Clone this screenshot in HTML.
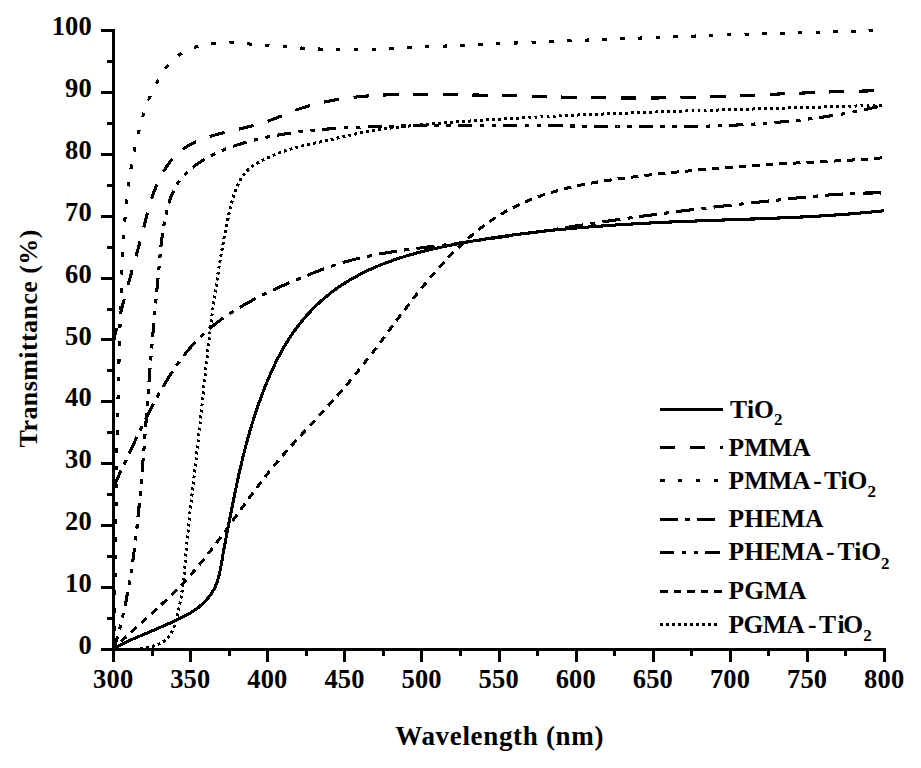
<!DOCTYPE html>
<html><head><meta charset="utf-8"><title>Transmittance</title><style>
html,body{margin:0;padding:0;background:#fff;}
body{width:921px;height:768px;position:relative;overflow:hidden;font-family:"Liberation Serif",serif;font-weight:bold;color:#000;}
.t{position:absolute;white-space:nowrap;line-height:1;}
.yl{font-size:26.5px;text-align:right;width:60px;letter-spacing:0.15px;}
.xl{font-size:26.5px;text-align:center;width:80px;letter-spacing:0.15px;}
.lg{font-size:25.5px;}
.lg sub{font-size:17px;vertical-align:baseline;position:relative;top:7.3px;line-height:0;}
.lg i{font-style:normal;display:inline-block;}
</style></head><body>
<svg width="921" height="768" viewBox="0 0 921 768" style="position:absolute;left:0;top:0">
<rect width="921" height="768" fill="#fff"/>
<g fill="none" stroke="#000" stroke-linejoin="round" shape-rendering="crispEdges">
<path d="M140 648.6 L142.3 648.3 L144.8 647.9 L147.3 647.4 L149.9 646.9 L152.4 646.3 L155 645.5 L157.5 644.7 L159.8 643.7 L162.1 642.5 L164.2 641.2 L166.1 639.7 L167.8 638 L169.3 636.2 L170.6 634.3 L171.8 632.2 L172.8 630 L173.8 627.7 L174.6 625.3 L175.4 622.9 L176.1 620.5 L176.7 618.1 L177.3 615.6 L177.9 613.2 L178.5 610.7 L179 608.2 L179.5 605.8 L180 603.3 L180.5 600.8 L180.9 598.4 L181.3 595.9 L181.7 593.4 L182.1 590.9 L182.4 588.4 L182.7 585.9 L183.1 583.5 L183.4 581 L183.6 578.5 L183.9 576 L184.2 573.5 L184.4 571 L184.7 568.5 L184.9 566 L185.1 563.5 L185.4 561 L185.6 558.5 L185.8 556 L186 553.5 L186.2 551 L186.5 548.6 L186.7 546.1 L186.9 543.6 L187.1 541.1 L187.3 538.6 L187.6 536.1 L187.8 533.6 L188.1 531.1 L188.3 528.6 L188.6 526.1 L188.8 523.6 L189.1 521.1 L189.3 518.6 L189.6 516.1 L189.9 513.6 L190.1 511.2 L190.4 508.7 L190.7 506.2 L191 503.7 L191.2 501.2 L191.5 498.7 L191.8 496.2 L192.1 493.7 L192.4 491.2 L192.7 488.8 L193 486.3 L193.2 483.8 L193.5 481.3 L193.8 478.8 L194.1 476.3 L194.4 473.8 L194.7 471.3 L195 468.9 L195.3 466.4 L195.6 463.9 L195.9 461.4 L196.1 458.9 L196.4 456.4 L196.7 453.9 L197 451.4 L197.3 448.9 L197.6 446.5 L197.8 444 L198.1 441.5 L198.4 439 L198.7 436.5 L198.9 434 L199.2 431.5 L199.5 429 L199.7 426.5 L200 424 L200.3 421.5 L200.5 419 L200.8 416.6 L201 414.1 L201.3 411.6 L201.6 409.1 L201.8 406.6 L202.1 404.1 L202.3 401.6 L202.6 399.1 L202.8 396.6 L203.1 394.1 L203.4 391.6 L203.6 389.1 L203.9 386.7 L204.1 384.2 L204.4 381.7 L204.7 379.2 L204.9 376.7 L205.2 374.2 L205.5 371.7 L205.7 369.2 L206 366.7 L206.3 364.2 L206.5 361.7 L206.8 359.3 L207.1 356.8 L207.4 354.3 L207.6 351.8 L207.9 349.3 L208.2 346.8 L208.5 344.3 L208.8 341.8 L209.1 339.3 L209.4 336.9 L209.7 334.4 L210 331.9 L210.3 329.4 L210.6 326.9 L210.9 324.4 L211.2 321.9 L211.5 319.5 L211.8 317 L212.1 314.5 L212.4 312 L212.8 309.5 L213.1 307 L213.4 304.6 L213.8 302.1 L214.1 299.6 L214.5 297.1 L214.8 294.6 L215.2 292.2 L215.5 289.7 L215.9 287.2 L216.3 284.7 L216.6 282.3 L217 279.8 L217.4 277.3 L217.8 274.8 L218.2 272.4 L218.5 269.9 L218.9 267.4 L219.3 264.9 L219.8 262.5 L220.2 260 L220.6 257.5 L221 255.1 L221.4 252.6 L221.9 250.1 L222.3 247.7 L222.8 245.2 L223.2 242.7 L223.7 240.3 L224.1 237.8 L224.6 235.3 L225.1 232.9 L225.6 230.4 L226.1 227.9 L226.6 225.5 L227.1 223 L227.6 220.6 L228.1 218.1 L228.6 215.6 L229.1 213.2 L229.7 210.7 L230.2 208.3 L230.8 205.8 L231.4 203.4 L232.1 201 L232.7 198.6 L233.5 196.2 L234.3 193.8 L235.1 191.4 L236 189.1 L236.9 186.8 L238 184.5 L239.1 182.2 L240.3 180 L241.6 177.9 L242.9 175.8 L244.4 173.8 L246 172 L247.7 170.2 L249.5 168.5 L251.4 167 L253.4 165.5 L255.5 164.2 L257.7 162.9 L259.9 161.7 L262.1 160.5 L264.4 159.4 L266.7 158.3 L269 157.2 L271.3 156.2 L273.7 155.2 L276 154.2 L278.3 153.3 L280.7 152.4 L283.1 151.6 L285.4 150.7 L287.8 149.9 L290.2 149.2 L292.6 148.5 L295 147.8 L297.4 147.2 L299.8 146.5 L302.2 145.9 L304.7 145.4 L307.1 144.8 L309.5 144.3 L312 143.7 L314.4 143.2 L316.9 142.7 L319.3 142.2 L321.7 141.6 L324.2 141.1 L326.6 140.5 L329.1 140 L331.5 139.4 L334 138.9 L336.4 138.3 L338.9 137.7 L341.3 137.2 L343.8 136.6 L346.2 136 L348.7 135.5 L351.1 135 L353.6 134.4 L356 133.9 L358.5 133.4 L360.9 132.9 L363.4 132.5 L365.9 132 L368.3 131.6 L370.8 131.1 L373.3 130.7 L375.7 130.3 L378.2 129.9 L380.7 129.6 L383.2 129.2 L385.6 128.8 L388.1 128.5 L390.6 128.1 L393.1 127.8 L395.6 127.5 L398.1 127.2 L400.5 126.9 L403 126.6 L405.5 126.3 L408 126.1 L410.5 125.8 L413 125.5 L415.5 125.3 L418 125.1 L420.5 124.8 L423 124.6 L425.5 124.4 L427.9 124.1 L430.4 123.9 L432.9 123.7 L435.4 123.5 L437.9 123.3 L440.4 123.1 L442.9 122.9 L445.4 122.7 L447.9 122.6 L450.4 122.4 L452.9 122.2 L455.4 122 L457.9 121.8 L460.4 121.7 L462.9 121.5 L465.4 121.3 L467.9 121.2 L470.4 121 L472.9 120.8 L475.4 120.7 L477.9 120.5 L480.4 120.3 L482.9 120.2 L485.4 120 L487.9 119.8 L490.4 119.7 L492.9 119.5 L495.4 119.4 L497.9 119.2 L500.4 119.1 L502.9 118.9 L505.4 118.8 L507.9 118.6 L510.4 118.5 L512.9 118.3 L515.4 118.2 L517.9 118.1 L520.4 117.9 L522.9 117.8 L525.4 117.6 L527.9 117.5 L530.4 117.4 L533 117.2 L535.5 117.1 L538 117 L540.5 116.9 L543 116.7 L545.5 116.6 L548 116.5 L550.5 116.3 L553 116.2 L555.5 116.1 L558 116 L560.5 115.9 L563 115.7 L564.8 115.7" stroke-width="3.0" stroke-dasharray="2.9 3.14" stroke-dashoffset="0.03"/>
<path d="M564.8 115.7 L565.5 115.6 L568 115.5 L570.5 115.4 L573 115.3 L575.5 115.2 L578 115 L580.5 114.9 L583 114.8 L585.5 114.7 L588 114.6 L590.5 114.5 L593 114.4 L595.5 114.3 L598 114.2 L600.5 114.1 L603 114 L605.5 113.9 L608 113.8 L610.5 113.7 L613 113.6 L615.5 113.5 L618 113.4 L620.5 113.3 L623.1 113.2 L625.6 113.1 L628.1 113 L630.6 112.9 L633.1 112.8 L635.6 112.7 L638.1 112.6 L640.6 112.5 L643.1 112.4 L645.6 112.4 L648.1 112.3 L650.6 112.2 L653.1 112.1 L655.6 112 L658.1 111.9 L660.6 111.8 L663.1 111.7 L665.6 111.7 L668.1 111.6 L670.6 111.5 L673.1 111.4 L675.6 111.3 L678.1 111.2 L680.6 111.2 L683.2 111.1 L685.7 111 L688.2 110.9 L690.7 110.8 L693.2 110.8 L695.7 110.7 L698.2 110.6 L700.7 110.5 L703.2 110.5 L705.7 110.4 L708.2 110.3 L710.7 110.2 L713.2 110.2 L715.7 110.1 L718.2 110 L720.7 109.9 L723.2 109.9 L725.7 109.8 L728.2 109.7 L730.7 109.6 L733.2 109.6 L735.7 109.5 L738.2 109.4 L740.8 109.3 L743.3 109.3 L745.8 109.2 L748.3 109.1 L750.8 109 L753.3 109 L755.8 108.9 L758.3 108.8 L760.8 108.8 L763.3 108.7 L765.8 108.6 L768.3 108.5 L770.8 108.5 L773.3 108.4 L775.8 108.3 L778.3 108.3 L780.8 108.2 L783.3 108.1 L785.8 108 L788.3 108 L790.8 107.9 L793.4 107.8 L795.9 107.8 L798.4 107.7 L800.9 107.6 L803.4 107.5 L805.9 107.5 L808.4 107.4 L810.9 107.3 L813.4 107.3 L815.9 107.2 L818.4 107.1 L820.9 107 L823.4 107 L825.9 106.9 L828.4 106.8 L830.9 106.7 L833.4 106.7 L835.9 106.6 L838.4 106.5 L840.9 106.4 L843.4 106.4 L845.9 106.3 L848.4 106.2 L851 106.1 L853.5 106.1 L856 106 L858.5 105.9 L861 105.8 L863.5 105.7 L866 105.7 L868.5 105.6 L871 105.5 L873.5 105.4 L876 105.3 L878.5 105.3 L881 105.2 L883.5 105.1" stroke-width="3.0" stroke-dasharray="2.9 3.14" stroke-dashoffset="0.00"/>
<path d="M114.3 649 L114.3 646.5 L114.3 644 L114.4 641.5 L114.4 639 L114.4 636.5 L114.4 634 L114.5 631.5 L114.5 629 L114.5 626.5 L114.5 624 L114.6 621.4 L114.6 618.9 L114.6 616.4 L114.6 613.9 L114.7 611.4 L114.7 608.9 L114.7 606.4 L114.7 603.9 L114.8 601.4 L114.8 598.9 L114.8 596.4 L114.8 593.9 L114.9 591.4 L114.9 588.9 L114.9 586.4 L114.9 583.9 L115 581.4 L115 578.9 L115 576.4 L115.1 573.9 L115.1 571.4 L115.1 568.8 L115.1 566.3 L115.2 563.8 L115.2 561.3 L115.2 558.8 L115.3 556.3 L115.3 553.8 L115.3 551.3 L115.4 548.8 L115.4 546.3 L115.4 543.8 L115.5 541.3 L115.5 538.8 L115.5 536.3 L115.6 533.8 L115.6 531.3 L115.6 528.8 L115.7 526.3 L115.7 523.8 L115.7 521.3 L115.8 518.8 L115.8 516.3 L115.8 513.8 L115.9 511.2 L115.9 508.7 L116 506.2 L116 503.7 L116 501.2 L116.1 498.7 L116.1 496.2 L116.1 493.7 L116.2 491.2 L116.2 488.7 L116.3 486.2 L116.3 483.7 L116.4 481.2 L116.4 478.7 L116.4 476.2 L116.5 473.7 L116.5 471.2 L116.6 468.7 L116.6 466.2 L116.7 463.7 L116.7 461.2 L116.7 458.7 L116.8 456.2 L116.8 453.7 L116.9 451.2 L116.9 448.6 L117 446.1 L117 443.6 L117.1 441.1 L117.1 438.6 L117.2 436.1 L117.2 433.6 L117.3 431.1 L117.3 428.6 L117.4 426.1 L117.4 423.6 L117.5 421.1 L117.6 418.6 L117.6 416.1 L117.7 413.6 L117.7 411.1 L117.8 408.6 L117.8 406.1 L117.9 403.6 L118 401.1 L118 398.6 L118.1 396.1 L118.1 393.6 L118.2 391.1 L118.3 388.5 L118.3 386 L118.4 383.5 L118.4 381 L118.5 378.5 L118.6 376 L118.6 373.5 L118.7 371 L118.8 368.5 L118.8 366 L118.9 363.5 L119 361 L119 358.5 L119.1 356 L119.2 353.5 L119.2 351 L119.3 348.5 L119.4 346 L119.5 343.5 L119.5 341 L119.6 338.5 L119.7 336 L119.8 333.5 L119.8 331 L119.9 328.5 L120 325.9 L120.1 323.4 L120.1 320.9 L120.2 318.4 L120.3 315.9 L120.4 313.4 L120.5 310.9 L120.6 308.4 L120.6 305.9 L120.7 303.4 L120.8 300.9 L120.9 298.4 L121 295.9 L121.1 293.4 L121.1 292.2" stroke-width="3.1" stroke-dasharray="4.5 13.3" stroke-dashoffset="17.18"/>
<path d="M121.1 292.2 L121.2 290.9 L121.2 288.4 L121.3 285.9 L121.4 283.4 L121.5 280.9 L121.6 278.4 L121.7 275.9 L121.8 273.4 L121.9 270.9 L122 268.3 L122.1 265.8 L122.2 263.3 L122.3 260.8 L122.5 258.3 L122.6 255.8 L122.7 253.3 L122.8 250.8 L123 248.3 L123.1 245.8 L123.2 243.3 L123.4 240.8 L123.5 238.3 L123.7 235.8 L123.9 233.3 L124 230.8 L124.2 228.3 L124.4 225.9 L124.6 223.4 L124.8 220.9 L125 218.4 L125.2 215.9 L125.4 213.4 L125.6 210.9 L125.9 208.4 L126.1 205.9 L126.4 203.4 L126.6 201 L126.9 198.5 L127.2 196 L127.5 193.5 L127.8 191 L128.1 188.5 L128.4 186.1 L128.7 183.6 L129.1 181.1 L129.4 178.6 L129.8 176.2 L130.2 173.7 L130.6 171.2 L131 168.8 L131.4 166.3 L131.8 163.8 L132.2 161.4 L132.7 158.9 L133.1 156.4 L133.6 154 L134.1 151.5 L134.6 149.1 L135.1 146.6 L135.7 144.2 L136.2 141.7 L136.8 139.3 L137.3 136.8 L137.9 134.4 L138.5 131.9 L139.2 129.5 L139.8 127.1 L140.5 124.6 L141.1 122.2 L141.8 119.8 L142.6 117.4 L143.3 114.9 L144.1 112.5 L144.9 110.1 L145.7 107.8 L146.5 105.4 L147.4 103 L148.3 100.7 L148.6 100.1" stroke-width="3.1" stroke-dasharray="4.48 13.2" stroke-dashoffset="0.00"/>
<path d="M148.6 100.1 L149.3 98.3 L150.2 96 L151.2 93.7 L152.3 91.4 L153.3 89.1 L154.4 86.8 L155.6 84.6 L156.8 82.4 L158 80.2 L159.3 78 L160.6 75.8 L162 73.7 L163.4 71.6 L164.8 69.5 L166.3 67.5 L167.9 65.6 L169.5 63.7 L171.2 61.9 L172.9 60.2 L174.7 58.5 L176.5 56.9 L178.4 55.4 L180.4 54.1 L182.5 52.7 L184.6 51.5 L186.7 50.4 L188.9 49.4 L191.2 48.4 L193.5 47.6 L195.8 46.8 L198.2 46.1 L200.6 45.4 L203 44.9 L205.5 44.4 L208 44 L210.4 43.6 L212.9 43.3 L215.5 43.1 L218 42.9 L220.5 42.8 L223 42.7 L225.5 42.7 L228.1 42.7 L229.5 42.8" stroke-width="3.1" stroke-dasharray="4.55 13.4" stroke-dashoffset="0.00"/>
<path d="M229.5 42.8 L230.6 42.8 L233.1 42.9 L235.7 43 L238.2 43.1 L240.7 43.3 L243.3 43.5 L245.8 43.7 L248.3 43.9 L250.8 44.1 L253.4 44.3 L255.9 44.5 L258.4 44.7 L260.9 44.9 L263.4 45.1 L266 45.3 L268.5 45.5 L271 45.7 L273.5 45.9 L276 46.1 L278.5 46.3 L281 46.5 L283.5 46.7 L286 46.9 L288.5 47.1 L291 47.3 L293.5 47.5 L296 47.7 L298.4 47.8 L300.9 48 L303.4 48.2 L305.9 48.3 L308.4 48.5 L310.9 48.6 L313.4 48.7 L315.9 48.9 L318.4 49 L320.9 49.1 L323.3 49.2 L325.8 49.3 L328.3 49.4 L330.8 49.4 L333.3 49.5 L335.8 49.5 L338.3 49.6 L340.8 49.6 L343.3 49.6 L345.8 49.6 L348.3 49.6 L350.8 49.6 L353.3 49.6 L355.8 49.6 L358.3 49.6 L360.8 49.5 L363.3 49.5 L365.8 49.4 L368.3 49.3 L370.8 49.3 L373.3 49.2 L375.8 49.1 L378.3 49 L380.8 48.9 L383.3 48.8 L385.8 48.7 L388.4 48.6 L390.9 48.5 L393.4 48.4 L395.9 48.3 L398.4 48.2 L400.9 48.1 L403.4 48 L405.9 47.8 L408.4 47.7 L410.9 47.6 L413.4 47.5 L415.9 47.4 L418.4 47.3 L420.9 47.1 L423.4 47 L426 46.9 L428.5 46.8 L431 46.7 L433.5 46.6 L436 46.5 L438.5 46.3 L441 46.2 L443.5 46.1 L446 46 L448.5 45.9 L451 45.8 L453.5 45.7 L456 45.6 L458.5 45.4 L461 45.3 L463.5 45.2 L466 45.1 L468.5 45 L471 44.9 L473.5 44.8 L476 44.7 L478.5 44.6 L481 44.5 L483.5 44.3 L486 44.2 L488.5 44.1 L491 44 L493.5 43.9 L496 43.8 L498.5 43.7 L501 43.6 L503.5 43.5 L506 43.4 L508.6 43.3 L511.1 43.2 L513.6 43.1 L516.1 43 L518.6 42.9 L521.1 42.7 L523.6 42.6 L526.1 42.5 L528.6 42.4 L531.1 42.3 L533.6 42.2 L536.1 42.1 L538.6 42 L541.1 41.9 L543.6 41.8 L546.1 41.7 L548.6 41.6 L551.1 41.5 L553.6 41.4 L556.1 41.3 L558.6 41.2 L561.1 41.1 L563.6 41 L566.1 40.9 L568.6 40.8 L571.1 40.7 L573.6 40.6 L576.1 40.5 L578.6 40.4 L581.1 40.3 L583.6 40.2 L586.1 40.1 L588.6 40 L591.1 39.9 L593.6 39.8 L596.1 39.7 L598.6 39.6 L601.1 39.5 L602.3 39.5" stroke-width="3.1" stroke-dasharray="4.49 13.3" stroke-dashoffset="0.00"/>
<path d="M602.3 39.5 L603.6 39.4 L606.1 39.3 L608.6 39.2 L611.1 39.1 L613.6 39 L616.1 38.9 L618.6 38.8 L621.1 38.7 L623.6 38.6 L626.1 38.5 L628.6 38.4 L631.1 38.3 L633.6 38.3 L636.1 38.2 L638.6 38.1 L641.1 38 L643.6 37.9 L646.2 37.8 L648.7 37.7 L651.2 37.6 L653.7 37.5 L656.2 37.4 L658.7 37.3 L661.2 37.2 L663.7 37.1 L666.2 37 L668.7 37 L671.2 36.9 L673.7 36.8 L676.2 36.7 L678.7 36.6 L681.2 36.5 L683.7 36.4 L686.2 36.3 L688.7 36.2 L691.2 36.1 L693.7 36.1 L696.2 36 L698.7 35.9 L701.2 35.8 L703.7 35.7 L706.2 35.6 L708.7 35.5 L711.2 35.5 L713.7 35.4 L716.2 35.3 L718.8 35.2 L721.3 35.1 L723.8 35 L726.3 34.9 L728.8 34.9 L731.3 34.8 L733.8 34.7 L736.3 34.6 L738.8 34.5 L741.3 34.5 L743.8 34.4 L746.3 34.3 L748.8 34.2 L751.3 34.1 L753.8 34.1 L756.3 34 L758.8 33.9 L761.3 33.8 L763.8 33.7 L766.3 33.7 L768.8 33.6 L771.3 33.5 L773.8 33.4 L776.3 33.4 L778.8 33.3 L781.4 33.2 L783.9 33.1 L786.4 33.1 L788.9 33 L791.4 32.9 L793.9 32.8 L796.4 32.8 L798.9 32.7 L801.4 32.6 L803.9 32.5 L806.4 32.5 L808.9 32.4 L811.4 32.3 L813.9 32.3 L816.4 32.2 L818.9 32.1 L821.4 32.1 L823.9 32 L826.4 31.9 L828.9 31.9 L831.4 31.8 L833.9 31.7 L836.4 31.7 L838.9 31.6 L841.4 31.5 L843.9 31.5 L846.5 31.4 L849 31.3 L851.5 31.3 L854 31.2 L856.5 31.1 L859 31.1 L861.5 31 L864 31 L866.5 30.9 L868.8 30.9" stroke-width="3.1" stroke-dasharray="4.49 13.3" stroke-dashoffset="0.00"/>
<path d="M868.8 30.9 L869 30.8 L871.5 30.8 L874 30.7 L876.5 30.7 L879 30.6 L881.5 30.6 L884 30.5" stroke-width="3.1" stroke-dasharray="4.5 13.3" stroke-dashoffset="0.00"/>
<path d="M113.7 648.7 L115.5 647 L117.3 645.2 L119.1 643.5 L120.9 641.7 L120.9 641.7" stroke-width="3.0" stroke-dasharray="7.5 6.03" stroke-dashoffset="3.49"/>
<path d="M120.9 641.7 L122.7 640 L124.5 638.3 L126.4 636.6 L128.2 634.9 L130.1 633.2 L131.9 631.5 L133.8 629.8 L135.6 628.1 L137.5 626.4 L139.4 624.7 L141.2 623 L143.1 621.3 L145 619.6 L146.9 618 L148.7 616.3 L150.6 614.6 L152.4 612.9 L154.3 611.2 L156.2 609.5 L158 607.8 L159.9 606.1 L161.7 604.4 L163.5 602.6 L165.3 600.9 L167.2 599.2 L169 597.4 L170.8 595.7 L172.6 593.9 L174.3 592.2 L176.1 590.4 L177.9 588.6 L179.6 586.8 L181.4 585 L183.1 583.2 L184.8 581.3 L186.5 579.5 L188.2 577.7 L189.9 575.8 L191.5 573.9 L193.2 572 L194.8 570.1 L196.4 568.2 L198 566.3 L199.6 564.4 L201.2 562.5 L202.8 560.5 L204.4 558.6 L205.9 556.6 L207.5 554.6 L209 552.7 L210.6 550.7 L212.1 548.7 L213.6 546.7 L215.1 544.7 L216.6 542.7 L218.1 540.7 L219.6 538.7 L221.1 536.7 L222.6 534.6 L224.1 532.6 L225.6 530.6 L227.1 528.6 L228.5 526.5 L230 524.5 L231.5 522.5 L233 520.4 L234.4 518.4 L235.9 516.3 L237.4 514.3 L238.8 512.3 L240.3 510.2 L241.8 508.2 L243.3 506.2 L244.7 504.1 L246.2 502.1 L247.7 500.1 L248.7 498.7" stroke-width="3.0" stroke-dasharray="7.62 6.13" stroke-dashoffset="0.00"/>
<path d="M248.7 498.7 L249.2 498 L250.7 496 L252.2 494 L253.6 492 L255.1 490 L256.7 487.9 L258.2 485.9 L259.7 483.9 L261.2 481.9 L262.7 480 L264.3 478 L265.8 476 L267.4 474 L268.9 472.1 L270.5 470.1 L272.1 468.1 L273.7 466.2 L275.3 464.3 L276.9 462.3 L278.5 460.4 L280.1 458.5 L281.7 456.6 L283.4 454.7 L285 452.8 L286.7 451 L288.4 449.1 L290 447.2 L291.7 445.3 L293.4 443.5 L295.1 441.6 L296.8 439.8 L298.5 437.9 L300.2 436.1 L301.9 434.2 L303.6 432.4 L305.3 430.5 L307 428.7 L308.7 426.9 L310.5 425 L312.2 423.2 L313.9 421.4 L315.6 419.5 L317.3 417.7 L319 415.8 L320.7 414 L322.4 412.1 L324.1 410.3 L325.8 408.5 L327.5 406.6 L329.2 404.7 L330.9 402.9 L332.5 401 L334.2 399.1 L335.9 397.3 L337.5 395.4 L339.2 393.5 L340.8 391.6 L342.5 389.7 L344.1 387.8 L345.7 385.9 L347.4 384 L349 382.1 L350.6 380.2 L352.2 378.3 L353.8 376.3 L355.4 374.4 L357 372.4 L358.5 370.5 L360.1 368.5 L361.7 366.6 L363.2 364.6 L364.8 362.6 L366.3 360.6 L367.9 358.7 L369.4 356.7 L370.9 354.7 L371.8 353.5" stroke-width="3.0" stroke-dasharray="7.54 6.07" stroke-dashoffset="0.00"/>
<path d="M371.8 353.5 L372.5 352.7 L374 350.7 L375.5 348.7 L377 346.7 L378.5 344.7 L380.1 342.6 L381.6 340.6 L383.1 338.6 L384.6 336.6 L386.1 334.6 L387.6 332.6 L389.1 330.5 L390.6 328.5 L392.1 326.5 L393.6 324.5 L395.1 322.5 L396.6 320.4 L398.2 318.4 L399.7 316.4 L401.2 314.4 L402.7 312.4 L404.2 310.4 L405.7 308.4 L407.3 306.4 L408.8 304.4 L410.3 302.4 L411.9 300.4 L413.4 298.4 L415 296.5 L416.5 294.5 L418.1 292.5 L419.7 290.5 L421.2 288.6 L422.8 286.6 L424.4 284.7 L426 282.8 L427.6 280.8 L429.2 278.9 L430.8 277 L432.5 275.1 L434.1 273.2 L435.8 271.3 L437.4 269.4 L439.1 267.5 L440.8 265.7 L442.5 263.8 L444.2 262 L445.9 260.2 L447.6 258.3 L449.3 256.5 L451.1 254.7 L452.8 253 L454.6 251.2 L456.4 249.4 L458.2 247.7 L460 245.9 L461.9 244.2 L463.7 242.5 L465.6 240.8 L467.4 239.2 L469.3 237.5 L471.2 235.9 L473.2 234.2 L475.1 232.6 L477 231.1 L479 229.5 L481 227.9 L483 226.4 L485 224.9 L487 223.5 L489.1 222 L491.2 220.6 L493.2 219.2 L495.3 217.8 L497.4 216.5 L499.6 215.1 L501.7 213.9 L503.9 212.6 L506.1 211.3 L508.3 210.1 L510.5 209 L512.7 207.8 L514.9 206.7 L517.2 205.6 L519.4 204.5 L521.7 203.4 L524 202.4 L526.3 201.4 L528.6 200.4 L530.9 199.5 L533.2 198.6 L535.6 197.7 L537.9 196.8 L540.3 196 L542.6 195.2 L545 194.4 L547.4 193.6 L549.8 192.9 L552.2 192.2 L554.6 191.5 L557 190.8 L559.4 190.1 L561.8 189.5 L564.3 188.8 L566.7 188.2 L569.1 187.7 L571.6 187.1 L574 186.5 L576.5 186 L579 185.5 L581.4 185 L583.9 184.5 L586.4 184 L588.9 183.6 L591.3 183.1 L593.8 182.7 L596.3 182.2 L598.8 181.8 L601.3 181.4 L603.8 181 L604.2 181.0" stroke-width="3.0" stroke-dasharray="7.57 6.08" stroke-dashoffset="0.00"/>
<path d="M604.2 181 L606.3 180.6 L608.8 180.3 L611.3 179.9 L613.8 179.5 L616.3 179.2 L618.8 178.8 L621.3 178.5 L623.8 178.2 L626.3 177.8 L628.8 177.5 L631.3 177.2 L633.7 176.9 L636.2 176.5 L638.7 176.2 L641.2 175.9 L643.7 175.6 L646.2 175.3 L648.7 175 L651.2 174.8 L653.7 174.5 L656.2 174.2 L658.7 173.9 L661.2 173.7 L663.7 173.4 L666.2 173.1 L668.7 172.9 L671.1 172.6 L673.6 172.4 L676.1 172.1 L678.6 171.9 L681.1 171.6 L683.6 171.4 L686.1 171.2 L688.6 170.9 L691.1 170.7 L693.6 170.5 L696.1 170.3 L698.6 170 L701.1 169.8 L703.6 169.6 L706.1 169.4 L708.6 169.2 L711.1 169 L713.6 168.8 L716.1 168.6 L718.6 168.3 L721.1 168.1 L723.6 167.9 L726.1 167.7 L728.6 167.6 L731.1 167.4 L733.6 167.2 L736.1 167 L738.6 166.8 L741.1 166.6 L743.6 166.4 L746.1 166.2 L748.6 166.1 L751.1 165.9 L753.6 165.7 L756.1 165.5 L758.6 165.4 L761.1 165.2 L763.7 165 L766.2 164.9 L768.7 164.7 L771.2 164.5 L773.7 164.4 L776.2 164.2 L778.7 164 L781.2 163.9 L783.7 163.7 L786.2 163.6 L788.7 163.4 L791.3 163.3 L793.8 163.2 L796.3 163 L798.8 162.9 L801.3 162.7 L803.8 162.6 L806.3 162.5 L808.8 162.3 L811.3 162.2 L813.8 162.1 L816.3 161.9 L818.9 161.8 L821.4 161.7 L823.9 161.6 L826.4 161.4 L828.9 161.3 L831.4 161.2 L833.9 161.1 L836.4 160.9 L838.9 160.8 L841.4 160.7 L843.9 160.5 L846.4 160.4 L848.9 160.2 L851.4 160.1 L854 159.9 L856.5 159.8 L859 159.6 L861.5 159.5 L864 159.3 L866.5 159.1 L869 158.9 L871.5 158.7 L874 158.5 L874.3 158.5" stroke-width="3.0" stroke-dasharray="7.51 6.04" stroke-dashoffset="0.00"/>
<path d="M874.3 158.5 L876.5 158.3 L879 158.1 L881.5 157.8 L884 157.6" stroke-width="3.0" stroke-dasharray="7.5 6.03" stroke-dashoffset="0.00"/>
<path d="M114.2 647.5 L115 645.1 L115.7 642.7 L116.4 640.3 L117.1 637.9 L117.8 635.4 L118.5 633 L119.1 630.6 L119.8 628.2 L120.4 625.8 L121 623.3 L121.6 620.9 L122.2 618.5 L122.8 616 L123.3 613.6 L123.9 611.1 L124.4 608.7 L124.9 606.3 L125 606.1" stroke-width="3.1" stroke-dasharray="14.2 7.4 4.6 7.4 4.6 7.1" stroke-dashoffset="2.57"/>
<path d="M125 606.1 L125.5 603.8 L126 601.4 L126.5 598.9 L126.9 596.4 L127.4 594 L127.9 591.5 L128.3 589.1 L128.8 586.6 L129.2 584.1 L129.6 581.7 L130 579.2 L130.4 576.7 L130.8 574.3 L131.2 571.8 L131.6 569.3 L132 566.8 L132.3 564.4 L132.7 561.9 L133 559.4 L133.4 556.9 L133.7 554.5 L134 552 L134.4 549.5 L134.7 547 L135 544.5 L135.3 542 L135.6 539.5 L135.9 537 L136.1 534.6 L136.4 532.1 L136.7 529.6 L137 527.1 L137.2 524.6 L137.5 522.1 L137.8 519.6 L138 517.1 L138.3 514.6 L138.5 512.1 L138.7 509.6 L139 507.1 L139.2 504.6 L139.4 502.1 L139.7 499.6 L139.9 497.1 L140.1 494.6 L140.4 492.1 L140.6 489.6 L140.8 487.1 L141 484.6 L141.2 482.2 L141.4 479.7 L141.7 477.2 L141.9 474.7 L142.1 472.2 L142.3 469.7 L142.5 467.2 L142.7 464.7 L142.9 462.2 L143.1 459.7 L143.3 457.2 L143.5 454.7 L143.7 452.2 L143.9 449.7 L144.1 447.2 L144.3 444.7 L144.5 442.2 L144.7 439.7 L144.8 437.2 L145 434.7 L145.2 432.2 L145.4 429.7 L145.6 427.2 L145.6 427.1" stroke-width="3.1" stroke-dasharray="14.1 7.37 4.58 7.37 4.58 7.07" stroke-dashoffset="0.00"/>
<path d="M145.6 427.1 L145.8 424.7 L146 422.2 L146.2 419.7 L146.4 417.2 L146.5 414.7 L146.7 412.2 L146.9 409.7 L147.1 407.2 L147.3 404.7 L147.5 402.2 L147.7 399.7 L147.8 397.2 L148 394.7 L148.2 392.2 L148.4 389.7 L148.6 387.2 L148.8 384.7 L149 382.2 L149.2 379.7 L149.4 377.2 L149.6 374.7 L149.7 372.2 L149.9 369.7 L150.1 367.2 L150.3 364.7 L150.5 362.2 L150.7 359.7 L150.9 357.2 L151.1 354.7 L151.3 352.2 L151.5 349.7 L151.8 347.2 L152 344.8 L152.2 342.3 L152.4 339.8 L152.6 337.3 L152.8 334.8 L153 332.3 L153.3 329.8 L153.5 327.3 L153.7 324.8 L153.9 322.3 L154.1 319.8 L154.4 317.3 L154.6 314.8 L154.8 312.4 L155.1 309.9 L155.3 307.4 L155.5 304.9 L155.8 302.4 L156 299.9 L156.2 297.4 L156.4 294.9 L156.7 292.4 L156.9 289.9 L157.1 287.4 L157.4 284.9 L157.6 282.4 L157.8 279.9 L158.1 277.4 L158.3 274.9 L158.5 272.4 L158.7 269.9 L159 267.4 L159.2 264.9 L159.4 262.4 L159.6 259.9 L159.9 257.4 L160.1 254.9 L160.3 252.4 L160.6 249.9 L160.9 247.4 L160.9 246.9" stroke-width="3.1" stroke-dasharray="14.2 7.39 4.59 7.39 4.59 7.09" stroke-dashoffset="0.00"/>
<path d="M160.9 246.9 L161.1 244.9 L161.4 242.4 L161.7 239.9 L162 237.4 L162.4 234.9 L162.7 232.4 L163.1 230 L163.5 227.5 L163.9 225 L164.3 222.5 L164.8 220.1 L165.3 217.6 L165.8 215.1 L166.4 212.7 L167 210.2 L167.6 207.8 L168.3 205.4 L169 203 L169.7 200.6 L170.5 198.2 L171.4 195.9 L172.4 193.6 L173.4 191.4 L174.4 189.2 L175.6 187 L176.8 184.9 L178.1 182.8 L179.5 180.8 L181 178.9 L182.6 177 L184.2 175.2 L186 173.4 L187.7 171.7 L189.6 170 L191.5 168.4 L192.8 167.4" stroke-width="3.1" stroke-dasharray="13.8 7.21 4.48 7.21 4.48 6.92" stroke-dashoffset="0.00"/>
<path d="M192.8 167.4 L193.4 166.8 L195.4 165.3 L197.5 163.9 L199.5 162.5 L201.7 161.1 L203.8 159.8 L206 158.5 L208.1 157.2 L210.3 156.1 L212.6 154.9 L214.8 153.8 L217.1 152.7 L219.4 151.7 L221.7 150.7 L224 149.7 L226.3 148.8 L228.7 147.9 L231 147 L233.4 146.2 L235.8 145.4 L238.2 144.6 L240.6 143.9 L243 143.2 L245.4 142.5 L247.9 141.8 L250.3 141.1 L252.7 140.5 L255.2 139.9 L257.6 139.3 L260.1 138.8 L262.5 138.2 L265 137.7 L267.4 137.1 L269.9 136.6 L272.3 136.2 L274.8 135.7 L277.3 135.2 L279.7 134.8 L282.2 134.4 L284.7 134 L287.2 133.6 L289.6 133.2 L292.1 132.9 L294.6 132.5 L297.1 132.2 L299.5 131.8 L302 131.5 L304.5 131.2 L307 131 L309.5 130.7 L312 130.4 L314.5 130.2 L316.9 129.9 L319.4 129.7 L321.9 129.5 L324.4 129.3 L326.9 129.1 L329.4 128.9 L331.9 128.7 L334.4 128.5 L336.9 128.4 L339.4 128.2 L341.9 128.1 L344.4 127.9 L346.9 127.8 L349.4 127.7 L351.9 127.6 L354.4 127.4 L356.9 127.3 L359.4 127.2 L361.9 127.1 L364.4 127 L367 126.9 L367.5 126.9" stroke-width="3.1" stroke-dasharray="14.3 7.43 4.62 7.43 4.62 7.13" stroke-dashoffset="0.00"/>
<path d="M367.5 126.9 L369.5 126.9 L372 126.8 L374.5 126.7 L377 126.6 L379.5 126.6 L382 126.5 L384.5 126.4 L387 126.4 L389.5 126.3 L392 126.3 L394.5 126.2 L397 126.1 L399.5 126.1 L402 126 L404.5 126 L407 125.9 L409.5 125.9 L412 125.9 L414.5 125.8 L417.1 125.8 L419.6 125.7 L422.1 125.7 L424.6 125.7 L427.1 125.6 L429.6 125.6 L432.1 125.6 L434.6 125.6 L437.1 125.5 L439.6 125.5 L442.1 125.5 L444.6 125.5 L447.1 125.5 L449.6 125.5 L452.1 125.4 L454.6 125.4 L457.1 125.4 L459.6 125.4 L462.1 125.4 L464.6 125.4 L467.1 125.4 L469.6 125.4 L472.1 125.4 L474.6 125.4 L477.1 125.4 L479.7 125.4 L482.2 125.4 L484.7 125.4 L487.2 125.4 L489.7 125.4 L492.2 125.4 L494.7 125.4 L497.2 125.4 L499.7 125.4 L502.2 125.4 L504.7 125.4 L507.2 125.5 L509.7 125.5 L512.2 125.5 L514.7 125.5 L517.2 125.5 L519.7 125.5 L522.2 125.6 L524.7 125.6 L527.2 125.6 L529.7 125.6 L532.2 125.6 L534.7 125.6 L537.2 125.7 L539.7 125.7 L542.3 125.7 L544.8 125.7 L547.3 125.8 L549.8 125.8 L552.3 125.8 L554.8 125.8 L557.3 125.9 L559.8 125.9 L562.3 125.9 L564.8 125.9 L567.3 125.9 L569.8 126 L572.3 126 L574.8 126 L577.3 126.1 L579.8 126.1 L582.3 126.1 L584.9 126.1 L587.4 126.2 L589.9 126.2 L592.4 126.2 L593.6 126.2" stroke-width="3.1" stroke-dasharray="14.2 7.39 4.59 7.39 4.59 7.09" stroke-dashoffset="0.00"/>
<path d="M593.6 126.2 L594.9 126.2 L597.4 126.3 L599.9 126.3 L602.4 126.3 L604.9 126.3 L607.4 126.4 L609.9 126.4 L612.4 126.4 L615 126.4 L617.5 126.5 L620 126.5 L622.5 126.5 L625 126.5 L627.5 126.5 L630 126.6 L632.5 126.6 L635 126.6 L637.5 126.6 L640 126.6 L642.6 126.6 L645.1 126.6 L647.6 126.6 L650.1 126.7 L652.6 126.7 L655.1 126.7 L657.6 126.7 L660.1 126.7 L662.6 126.7 L665.1 126.6 L667.7 126.6 L670.2 126.6 L672.7 126.6 L675.2 126.6 L677.7 126.6 L680.2 126.6 L682.7 126.5 L685.2 126.5 L687.7 126.5 L690.2 126.4 L692.7 126.4 L695.2 126.3 L697.7 126.3 L700.3 126.2 L702.8 126.2 L705.3 126.1 L707.8 126.1 L710.3 126 L712.8 125.9 L715.3 125.9 L717.8 125.8 L720.3 125.7 L722.8 125.6 L725.3 125.5 L727.8 125.4 L730.3 125.3 L732.8 125.2 L735.3 125.1 L737.8 125 L740.3 124.8 L742.8 124.7 L745.3 124.6 L747.8 124.4 L750.3 124.3 L752.8 124.1 L755.3 124 L757.8 123.8 L760.3 123.6 L762.8 123.5 L765.3 123.3 L767.8 123.1 L770.3 122.9 L772.8 122.7 L775.2 122.5 L777.7 122.3 L780.2 122.1 L782.7 121.8 L785.2 121.6 L787.7 121.3 L790.2 121.1 L792.7 120.8 L795.2 120.6 L797.6 120.3 L800.1 120 L802.6 119.7 L805.1 119.4 L807.6 119.1 L810.1 118.8 L812.5 118.5 L815 118.2 L817.5 117.8 L819.3 117.6" stroke-width="3.1" stroke-dasharray="14.2 7.39 4.59 7.39 4.59 7.09" stroke-dashoffset="0.00"/>
<path d="M819.3 117.6 L820 117.5 L822.4 117.1 L824.9 116.8 L827.4 116.4 L829.9 116 L832.3 115.6 L834.8 115.2 L837.3 114.8 L839.7 114.4 L842.2 114 L844.7 113.5 L847.1 113.1 L849.6 112.6 L852.1 112.2 L854.5 111.7 L857 111.2 L859.5 110.7 L861.9 110.2 L864.4 109.7 L866.8 109.2 L869.3 108.6 L871.7 108.1 L874.2 107.5 L876.7 107 L879.1 106.4 L881.6 105.8 L884 105.2" stroke-width="3.1" stroke-dasharray="14.2 7.4 4.6 7.4 4.6 7.1" stroke-dashoffset="0.00"/>
<path d="M113.5 486.5 L114.6 484.2 L115.7 482 L116.8 479.7 L117.9 477.5 L118.9 475.2 L120 472.9 L121.1 470.7 L122.2 468.4 L123.2 466.1 L124.3 463.8 L125.4 461.6 L126.4 459.3 L127.5 457 L128.5 454.8 L129.2 453.4" stroke-width="3.1" stroke-dasharray="18 7.1 5 7.1" stroke-dashoffset="0.56"/>
<path d="M129.2 453.4 L129.6 452.5 L130.7 450.2 L131.7 448 L132.8 445.7 L133.9 443.4 L134.9 441.2 L136 438.9 L137.1 436.6 L138.2 434.4 L139.2 432.1 L140.3 429.9 L141.4 427.6 L142.5 425.4 L143.6 423.1 L144.7 420.9 L145.9 418.6 L147 416.4 L148.1 414.2 L149.3 411.9 L150.4 409.7 L151.6 407.5 L152.7 405.3 L153.9 403.1 L155.1 400.8 L156.3 398.6 L157.5 396.4 L158.7 394.3 L160 392.1 L161.2 389.9 L162.5 387.7 L163.7 385.6 L165 383.4 L166.3 381.2 L167.6 379.1 L169 377 L170.3 374.8 L171.7 372.7 L173 370.6 L174.4 368.5 L175.9 366.5 L177.3 364.4 L178.7 362.4 L180.2 360.3 L181.7 358.3 L183.2 356.3 L184.8 354.4 L186.3 352.4 L187.9 350.5 L189.5 348.6 L191.1 346.7 L192.8 344.8 L194.5 343 L196.2 341.1 L197.9 339.3 L199.7 337.6 L201.4 335.8 L203.3 334.1 L205.1 332.4 L207 330.8 L208.9 329.1 L209.2 328.8" stroke-width="3.1" stroke-dasharray="18.1 7.12 5.01 7.12" stroke-dashoffset="0.00"/>
<path d="M209.2 328.8 L210.8 327.5 L212.7 326 L214.7 324.4 L216.6 322.9 L218.6 321.4 L220.7 319.9 L222.7 318.4 L224.8 317 L226.8 315.6 L228.9 314.2 L231 312.8 L233.1 311.5 L235.3 310.1 L237.4 308.8 L239.5 307.5 L241.7 306.3 L243.9 305 L246.1 303.8 L248.2 302.6 L250.4 301.4 L252.6 300.2 L254.9 299 L257.1 297.9 L259.3 296.7 L261.5 295.6 L263.8 294.5 L266 293.4 L268.3 292.3 L270.6 291.2 L272.8 290.2 L275.1 289.1 L277.4 288.1 L279.7 287 L281.9 286 L284.2 285 L286.5 284 L288.8 283 L291.1 282 L293.5 281 L295.8 280.1 L298.1 279.1 L300.4 278.1 L302.7 277.2 L305 276.2 L307.4 275.3 L309.7 274.3 L312 273.4 L314.4 272.5 L316.7 271.6 L319 270.7 L321.4 269.8 L323.7 268.9 L326.1 268.1 L328.5 267.2 L330.8 266.4 L333.2 265.6 L335.6 264.8 L337.9 264.1 L340.3 263.3 L342.7 262.6" stroke-width="3.1" stroke-dasharray="18.1 7.15 5.03 7.15" stroke-dashoffset="0.00"/>
<path d="M342.7 262.6 L342.7 262.6 L345.1 261.9 L347.5 261.2 L349.9 260.6 L352.3 259.9 L354.8 259.3 L357.2 258.7 L359.6 258.1 L362 257.6 L364.5 257 L366.9 256.5 L369.4 256 L371.8 255.5 L374.3 255 L376.7 254.5 L379.2 254.1 L381.6 253.6 L384.1 253.2 L386.6 252.8 L389 252.4 L391.5 252 L394 251.6 L396.5 251.2 L398.9 250.8 L401.4 250.5 L403.9 250.1 L406.4 249.8 L408.9 249.5 L411.4 249.1 L413.9 248.8 L416.4 248.5 L418.8 248.2 L421.3 247.8 L423.8 247.5 L426.3 247.2 L428.8 246.9 L431.3 246.6 L433.8 246.3 L436.3 246 L438.8 245.7 L441.3 245.4 L443.8 245.1 L446.3 244.8 L448.8 244.4 L451.3 244.1 L453.8 243.8 L456.3 243.5 L458.7 243.1 L461.2 242.8 L463.7 242.5 L466.2 242.1 L468.7 241.8 L471.2 241.4 L473.6 241.1 L476.1 240.7 L478.6 240.3 L481.1 240 L483.6 239.6 L486 239.3 L488.5 238.9 L491 238.5 L493.5 238.2 L496 237.8 L498.4 237.4 L500.9 237.1 L503.4 236.7 L505.9 236.4 L508.3 236 L510.8 235.7 L513.3 235.3 L515.8 235 L518.3 234.6 L520.7 234.3 L523.2 233.9 L525.7 233.6 L528.2 233.3 L530.7 232.9 L533.2 232.6 L535.6 232.2 L538.1 231.9 L540.6 231.5 L543.1 231.2 L545.5 230.8 L548 230.4 L550.5 230 L552.9 229.6 L555.4 229.3 L557.9 228.9 L560.3 228.5 L562.8 228.1 L565.2 227.7 L567.7 227.3 L570.2 226.9 L572.7 226.5 L575.1 226.1 L577.6 225.7 L580.1 225.3 L582.5 225 L585 224.6 L587.5 224.2 L589.9 223.8 L592.4 223.4 L594.9 223.1 L597.4 222.7 L599.8 222.3 L602.3 221.9 L604.8 221.6 L607.3 221.2 L609.8 220.8 L612.2 220.5 L614.7 220.1 L617.2 219.7 L619.7 219.4 L622.1 219 L624.6 218.7 L627.1 218.3 L629.6 218 L632.1 217.6 L634.6 217.3 L637 216.9 L639.3 216.6" stroke-width="3.1" stroke-dasharray="18.2 7.17 5.05 7.17" stroke-dashoffset="0.00"/>
<path d="M639.3 216.6 L639.5 216.6 L642 216.2 L644.5 215.9 L647 215.5 L649.5 215.2 L651.9 214.9 L654.4 214.5 L656.9 214.2 L659.4 213.9 L661.9 213.5 L664.4 213.2 L666.9 212.9 L669.4 212.6 L671.8 212.2 L674.3 211.9 L676.8 211.6 L679.3 211.3 L681.8 211 L684.3 210.7 L686.8 210.4 L689.3 210.1 L691.7 209.8 L694.2 209.5 L696.7 209.2 L699.2 208.9 L701.7 208.6 L704.2 208.3 L706.7 208 L709.2 207.7 L711.7 207.4 L714.2 207.1 L716.7 206.8 L719.1 206.5 L721.6 206.2 L724.1 205.9 L726.6 205.7 L729.1 205.4 L731.6 205.1 L734.1 204.8 L736.6 204.5 L739.1 204.3 L741.6 204 L744.1 203.7 L746.6 203.4 L749 203.2 L751.5 202.9 L754 202.6 L756.5 202.3 L759 202.1 L761.5 201.8 L764 201.5 L766.5 201.2 L769 201 L771.5 200.7 L774 200.4 L776.5 200.2 L779 199.9 L781.5 199.6 L784 199.3 L786.5 199.1 L789 198.8 L791.4 198.5 L793.9 198.3 L796.4 198 L798.9 197.8 L801.4 197.5 L803.9 197.3 L806.4 197 L808.9 196.8 L811.4 196.5 L813.9 196.3 L816.4 196.1 L818.9 195.8 L821.4 195.6 L823.9 195.4 L826.4 195.2 L828.9 195 L831.4 194.8 L833.9 194.6 L836.4 194.5 L838.9 194.3 L841.4 194.1 L843.9 194 L846.4 193.8 L848.9 193.7 L851.4 193.6 L853.9 193.5 L856.4 193.4 L858.9 193.3 L861.4 193.2 L862.8 193.1" stroke-width="3.1" stroke-dasharray="18.1 7.15 5.03 7.15" stroke-dashoffset="0.00"/>
<path d="M862.8 193.1 L863.9 193.1 L866.4 193 L868.9 193 L871.4 193 L874 192.9 L876.5 192.9 L879 192.9 L881.5 193 L884 193.0" stroke-width="3.1" stroke-dasharray="18 7.1 5 7.1" stroke-dashoffset="0.00"/>
<path d="M113.8 340 L114.4 337.5 L115 335.1 L115.6 332.6 L116.2 330.2 L116.8 327.7 L117.4 325.3 L118 322.8 L118.6 320.4 L119.3 318 L119.9 315.5 L120.5 313.1 L121.2 310.7 L121.8 308.3 L122.4 305.8 L123.1 303.4 L123.7 301 L124.4 298.6 L125 296.2 L125.7 293.8 L126.3 291.4 L127 289 L127.7 286.6 L128.1 285.0" stroke-width="3.1" stroke-dasharray="15.3 14.6" stroke-dashoffset="2.83"/>
<path d="M128.1 285 L128.3 284.1 L129 281.7 L129.7 279.3 L130.3 276.9 L131 274.5 L131.6 272.1 L132.3 269.7 L133 267.3 L133.6 264.9 L134.3 262.5 L135 260.1 L135.6 257.7 L136.3 255.3 L137 252.8 L137.6 250.4 L138.3 248 L138.9 245.6 L139.6 243.1 L140.2 240.7 L140.9 238.3 L141.5 235.9 L142.2 233.4 L142.8 231 L143.4 228.5 L144.1 226.1 L144.7 223.6 L145.3 221.2 L146 218.7 L146.6 216.3 L147.3 213.8 L147.9 211.4 L148.6 208.9 L149.3 206.5 L150 204.1 L150.7 201.6 L151.5 199.2 L152.3 196.8 L153.1 194.5 L153.9 192.1 L154.8 189.7 L155.7 187.4 L156.7 185.1 L157.7 182.8 L158.7 180.5 L159.8 178.3 L160.9 176.1 L162.1 173.9 L163.4 171.7 L164.7 169.6 L166 167.5 L167.4 165.4 L168.9 163.4 L170.4 161.4 L172 159.5 L173.7 157.6 L175.4 155.8 L177.2 154.1 L179 152.4 L180.9 150.8 L182.8 149.3 L182.9 149.3" stroke-width="3.1" stroke-dasharray="15.3 14.5" stroke-dashoffset="0.00"/>
<path d="M182.9 149.3 L184.8 147.9 L186.9 146.6 L189 145.3 L191.2 144.1 L193.4 143 L195.7 141.9 L198 140.9 L200.3 139.9 L202.6 139 L205 138.2 L207.4 137.3 L209.8 136.6 L212.2 135.8 L214.7 135.1 L217.1 134.4 L219.5 133.8 L222 133.2 L224.4 132.5 L226.9 132 L229.3 131.4 L231.8 130.8 L234.2 130.2 L236.7 129.7 L239.2 129.1 L241.6 128.5 L244.1 127.9 L246.5 127.4 L248.9 126.7 L251.4 126.1 L253.8 125.5 L256.2 124.8 L258.6 124.2 L261 123.4 L263.4 122.7 L265.8 121.9 L268.1 121.1 L270.5 120.2 L272.8 119.4 L275.2 118.4 L277.5 117.5 L279.8 116.6 L282.1 115.6 L284.4 114.6 L286.8 113.7 L289.1 112.7 L291.4 111.8 L293.8 110.9 L296.1 110 L298.5 109.2 L300.9 108.4 L303.2 107.6 L305.6 106.9 L308 106.2 L310.4 105.5 L312.9 104.8 L315.3 104.2 L317.7 103.6 L320.2 103 L322.6 102.4 L325.1 101.9 L327.5 101.4 L330 100.9 L332.4 100.5 L334.9 100 L337.3 99.6 L339.8 99.2 L342.3 98.8 L344.7 98.5 L347.2 98.1 L349.7 97.8 L352.2 97.5 L353.8 97.3" stroke-width="3.1" stroke-dasharray="15.3 14.6" stroke-dashoffset="0.00"/>
<path d="M353.8 97.3 L354.7 97.2 L357.1 96.9 L359.6 96.7 L362.1 96.4 L364.6 96.2 L367.1 96 L369.6 95.8 L372.1 95.7 L374.6 95.5 L377.1 95.4 L379.6 95.2 L382.1 95.1 L384.6 95 L387.1 94.9 L389.6 94.8 L392.2 94.7 L394.7 94.6 L397.2 94.6 L399.7 94.5 L402.2 94.5 L404.7 94.5 L407.2 94.4 L409.8 94.4 L412.3 94.4 L414.8 94.4 L417.3 94.4 L419.8 94.4 L422.3 94.4 L424.9 94.4 L427.4 94.4 L429.9 94.4 L432.4 94.4 L434.9 94.4 L437.4 94.5 L439.9 94.5 L442.5 94.5 L445 94.5 L447.5 94.6 L450 94.6 L452.5 94.6 L455 94.7 L457.5 94.7 L460.1 94.7 L462.6 94.8 L465.1 94.8 L467.6 94.9 L470.1 94.9 L472.6 95 L475.1 95 L477.6 95 L480.2 95.1 L482.7 95.2 L485.2 95.2 L487.7 95.3 L490.2 95.3 L492.7 95.4 L495.2 95.4 L497.7 95.5 L500.2 95.5 L502.8 95.6 L505.3 95.7 L507.8 95.7 L510.3 95.8 L512.8 95.8 L515.3 95.9 L517.8 96 L520.3 96 L522.8 96.1 L525.3 96.2 L527.8 96.2 L530.4 96.3 L532.9 96.3 L535.4 96.4 L537.9 96.5 L540.4 96.5 L542.9 96.6 L545.4 96.6 L547.9 96.7 L550.4 96.8 L552.9 96.8 L555.4 96.9 L557.9 96.9 L560.4 97 L561.3 97.0" stroke-width="3.1" stroke-dasharray="15.2 14.5" stroke-dashoffset="0.00"/>
<path d="M561.3 97 L563 97.1 L565.5 97.1 L568 97.2 L570.5 97.2 L573 97.3 L575.5 97.3 L578 97.4 L580.5 97.4 L583 97.5 L585.5 97.5 L588 97.6 L590.5 97.6 L593 97.6 L595.5 97.7 L598 97.7 L600.6 97.8 L603.1 97.8 L605.6 97.8 L608.1 97.9 L610.6 97.9 L613.1 97.9 L615.6 97.9 L618.1 98 L620.6 98 L623.1 98 L625.6 98 L628.1 98 L630.6 98 L633.1 98 L635.6 98 L638.2 98 L640.7 98 L643.2 98 L645.7 98 L648.2 98 L650.7 98 L653.2 98 L655.7 98 L658.2 98 L660.7 97.9 L663.2 97.9 L665.7 97.9 L668.2 97.8 L670.8 97.8 L673.3 97.7 L675.8 97.7 L678.3 97.7 L680.8 97.6 L683.3 97.5 L685.8 97.5 L688.3 97.4 L690.8 97.4 L693.3 97.3 L695.8 97.2 L698.3 97.2 L700.9 97.1 L703.4 97 L705.9 96.9 L708.4 96.8 L710.9 96.8 L713.4 96.7 L715.9 96.6 L718.4 96.5 L720.9 96.4 L723.4 96.3 L725.9 96.2 L728.5 96.1 L731 96 L733.5 95.9 L736 95.8 L738.5 95.7 L741 95.6 L743.5 95.5 L746 95.4 L748.5 95.3 L751 95.2 L753.6 95.1 L756.1 95 L758.6 94.9 L761.1 94.8 L763.6 94.7 L766.1 94.6 L768.6 94.5 L771.1 94.4 L773.6 94.2 L776.1 94.1 L778.7 94 L781.2 93.9 L783.7 93.8 L786.2 93.7 L788.7 93.6 L791.2 93.5 L793.7 93.4 L796.2 93.3 L798.7 93.2 L799.3 93.2" stroke-width="3.1" stroke-dasharray="15.3 14.5" stroke-dashoffset="0.00"/>
<path d="M799.3 93.2 L801.2 93.1 L803.7 93 L806.3 92.9 L808.8 92.8 L811.3 92.7 L813.8 92.6 L816.3 92.5 L818.8 92.4 L821.3 92.3 L823.8 92.2 L826.3 92.1 L828.8 92 L831.3 91.9 L833.9 91.9 L836.4 91.8 L838.9 91.7 L841.4 91.6 L843.9 91.5 L846.4 91.5 L848.9 91.4 L851.4 91.3 L853.9 91.3 L856.4 91.2 L858.9 91.1 L861.4 91.1 L863.9 91 L866.5 91 L869 90.9 L871.5 90.9 L874 90.8 L876.5 90.8 L879 90.8 L881.5 90.7 L884 90.7" stroke-width="3.1" stroke-dasharray="15.3 14.6" stroke-dashoffset="0.00"/>
<path d="M113.7 648.7 L115.9 647.5 L118.2 646.2 L120.4 645.1 L122.6 643.9 L124.9 642.8 L127.1 641.7 L129.4 640.7 L131.6 639.6 L133.9 638.6 L136.2 637.6 L138.5 636.6 L140.8 635.7 L143.1 634.7 L145.4 633.7 L147.7 632.8 L150 631.8 L152.3 630.8 L154.6 629.8 L156.9 628.9 L159.2 627.8 L161.5 626.8 L163.8 625.8 L166.1 624.8 L168.4 623.8 L170.7 622.7 L173 621.7 L175.3 620.6 L177.6 619.5 L179.9 618.5 L182.2 617.3 L184.5 616.2 L186.8 615 L189 613.8 L191.1 612.5 L193.3 611.1 L195.4 609.7 L197.4 608.2 L199.3 606.7 L201.2 605 L203.1 603.4 L204.8 601.6 L206.5 599.8 L208.1 598 L209.6 596 L211.1 594 L212.4 592 L213.6 589.9 L214.7 587.7 L215.8 585.5 L216.7 583.2 L217.5 580.8 L218.2 578.4 L218.9 576 L219.5 573.5 L220 571 L220.5 568.5 L221 566 L221.4 563.5 L221.9 560.9 L222.3 558.4 L222.7 555.9 L223.1 553.4 L223.6 550.9 L224 548.4 L224.5 546 L225 543.5 L225.4 541 L225.9 538.6 L226.4 536.1 L226.9 533.7 L227.3 531.2 L227.8 528.8 L228.3 526.3 L228.8 523.9 L229.3 521.4 L229.8 519 L230.2 516.5 L230.7 514.1 L231.2 511.6 L231.7 509.2 L232.2 506.7 L232.7 504.2 L233.2 501.8 L233.7 499.3 L234.2 496.9 L234.7 494.4 L235.2 491.9 L235.7 489.5 L236.2 487 L236.7 484.5 L237.2 482.1 L237.8 479.6 L238.3 477.2 L238.8 474.7 L239.4 472.3 L240 469.8 L240.5 467.4 L241.1 464.9 L241.7 462.5 L242.2 460 L242.8 457.6 L243.4 455.1 L244.1 452.7 L244.7 450.3 L245.3 447.8 L245.9 445.4 L246.6 443 L247.2 440.6 L247.9 438.2 L248.6 435.7 L249.3 433.3 L250 430.9 L250.7 428.5 L251.4 426.1 L252.1 423.7 L252.9 421.3 L253.6 418.9 L254.4 416.5 L255.2 414.2 L255.9 411.8 L256.7 409.4 L257.5 407 L258.4 404.7 L259.2 402.3 L260.1 399.9 L260.9 397.6 L261.8 395.2 L262.7 392.9 L263.6 390.5 L264.5 388.2 L265.4 385.9 L266.4 383.5 L267.3 381.2 L268.3 378.9 L269.3 376.6 L270.3 374.3 L271.3 372 L272.3 369.7 L273.4 367.4 L274.5 365.1 L275.6 362.8 L276.7 360.6 L277.8 358.3 L279 356.1 L280.2 353.9 L281.4 351.7 L282.6 349.5 L283.8 347.3 L285.1 345.2 L286.4 343 L287.7 340.9 L289.1 338.8 L290.4 336.7 L291.8 334.6 L293.3 332.5 L294.7 330.5 L296.2 328.4 L297.7 326.4 L299.2 324.5 L300.8 322.5 L302.4 320.5 L304 318.6 L305.6 316.7 L307.3 314.8 L309 313 L310.7 311.1 L312.4 309.3 L314.2 307.5 L316 305.8 L317.8 304 L319.6 302.3 L321.5 300.7 L323.3 299 L325.2 297.4 L327.2 295.8 L329.1 294.2 L331.1 292.6 L333.1 291.1 L335.1 289.6 L337.2 288.2 L339.3 286.7 L341.4 285.3 L343.5 284 L345.6 282.6 L347.7 281.3 L349.9 280 L352.1 278.7 L354.3 277.5 L356.5 276.3 L358.7 275.1 L360.9 273.9 L363.2 272.8 L365.4 271.7 L367.7 270.6 L370 269.5 L372.3 268.5 L374.6 267.5 L376.9 266.5 L379.2 265.5 L381.5 264.6 L383.8 263.7 L386.2 262.8 L388.5 261.9 L390.9 261.1 L393.2 260.2 L395.6 259.4 L398 258.6 L400.4 257.8 L402.7 257.1 L405.1 256.3 L407.5 255.6 L409.9 254.9 L412.4 254.2 L414.8 253.6 L417.2 252.9 L419.6 252.3 L422 251.6 L424.5 251 L426.9 250.4 L429.4 249.8 L431.8 249.3 L434.2 248.7 L436.7 248.1 L439.2 247.6 L441.6 247.1 L444.1 246.5 L446.5 246 L449 245.5 L451.5 245 L453.9 244.6 L456.4 244.1 L458.9 243.6 L461.3 243.1 L463.8 242.7 L466.3 242.2 L468.7 241.8 L471.2 241.3 L473.7 240.9 L476.2 240.5 L478.6 240.1 L481.1 239.7 L483.6 239.3 L486.1 238.9 L488.6 238.5 L491 238.1 L493.5 237.7 L496 237.3 L498.5 237 L501 236.6 L503.5 236.2 L505.9 235.9 L508.4 235.5 L510.9 235.2 L513.4 234.9 L515.9 234.5 L518.4 234.2 L520.9 233.9 L523.4 233.6 L525.9 233.3 L528.3 233 L530.8 232.7 L533.3 232.4 L535.8 232.1 L538.3 231.8 L540.8 231.5 L543.3 231.2 L545.8 231 L548.3 230.7 L550.8 230.4 L553.3 230.2 L555.8 229.9 L558.3 229.7 L560.8 229.4 L563.3 229.2 L565.8 229 L568.3 228.7 L570.8 228.5 L573.3 228.3 L575.8 228.1 L578.3 227.8 L580.8 227.6 L583.3 227.4 L585.8 227.2 L588.3 227 L590.8 226.8 L593.3 226.6 L595.8 226.4 L598.3 226.2 L600.8 226.1 L603.3 225.9 L605.8 225.7 L608.3 225.5 L610.8 225.3 L613.3 225.2 L615.8 225 L618.3 224.8 L620.8 224.7 L623.3 224.5 L625.8 224.4 L628.3 224.2 L630.8 224.1 L633.3 223.9 L635.8 223.8 L638.4 223.6 L640.9 223.5 L643.4 223.4 L645.9 223.2 L648.4 223.1 L650.9 223 L653.4 222.8 L655.9 222.7 L658.4 222.6 L660.9 222.5 L663.4 222.4 L665.9 222.2 L668.4 222.1 L671 222 L673.5 221.9 L676 221.8 L678.5 221.7 L681 221.6 L683.5 221.5 L686 221.4 L688.5 221.3 L691 221.2 L693.5 221.1 L696 221 L698.5 220.9 L701.1 220.8 L703.6 220.7 L706.1 220.6 L708.6 220.5 L711.1 220.4 L713.6 220.3 L716.1 220.2 L718.6 220.2 L721.1 220.1 L723.6 220 L726.1 219.9 L728.7 219.8 L731.2 219.7 L733.7 219.6 L736.2 219.6 L738.7 219.5 L741.2 219.4 L743.7 219.3 L746.2 219.2 L748.7 219.1 L751.2 219 L753.7 219 L756.3 218.9 L758.8 218.8 L761.3 218.7 L763.8 218.6 L766.3 218.5 L768.8 218.4 L771.3 218.3 L773.8 218.2 L776.3 218.1 L778.8 218 L781.3 217.9 L783.8 217.8 L786.4 217.7 L788.9 217.6 L791.4 217.5 L793.9 217.4 L796.4 217.2 L798.9 217.1 L801.4 217 L803.9 216.9 L806.4 216.7 L808.9 216.6 L811.4 216.5 L813.9 216.3 L816.4 216.2 L818.9 216.1 L821.4 215.9 L824 215.8 L826.5 215.6 L829 215.4 L831.5 215.3 L834 215.1 L836.5 214.9 L839 214.8 L841.5 214.6 L844 214.4 L846.5 214.2 L849 214 L851.5 213.8 L854 213.6 L856.5 213.4 L859 213.2 L861.5 212.9 L864 212.7 L866.5 212.5 L869 212.3 L871.5 212 L874 211.8 L876.5 211.5 L879 211.2 L881.5 211 L884 210.7" stroke-width="3.1"/>
</g>
<g fill="#000" shape-rendering="crispEdges">
<rect x="112" y="29" width="3" height="622"/>
<rect x="101" y="648" width="785" height="3"/>
<rect x="107" y="617" width="5" height="3"/>
<rect x="101" y="586" width="11" height="3"/>
<rect x="107" y="555" width="5" height="3"/>
<rect x="101" y="524" width="11" height="3"/>
<rect x="107" y="493" width="5" height="3"/>
<rect x="101" y="462" width="11" height="3"/>
<rect x="107" y="431" width="5" height="3"/>
<rect x="101" y="400" width="11" height="3"/>
<rect x="107" y="369" width="5" height="3"/>
<rect x="101" y="338" width="11" height="3"/>
<rect x="107" y="308" width="5" height="3"/>
<rect x="101" y="277" width="11" height="3"/>
<rect x="107" y="246" width="5" height="3"/>
<rect x="101" y="215" width="11" height="3"/>
<rect x="107" y="184" width="5" height="3"/>
<rect x="101" y="153" width="11" height="3"/>
<rect x="107" y="122" width="5" height="3"/>
<rect x="101" y="91" width="11" height="3"/>
<rect x="107" y="60" width="5" height="3"/>
<rect x="101" y="29" width="11" height="3"/>
<rect x="112" y="651" width="3" height="11"/>
<rect x="151" y="651" width="3" height="5"/>
<rect x="189" y="651" width="3" height="11"/>
<rect x="228" y="651" width="3" height="5"/>
<rect x="266" y="651" width="3" height="11"/>
<rect x="305" y="651" width="3" height="5"/>
<rect x="343" y="651" width="3" height="11"/>
<rect x="382" y="651" width="3" height="5"/>
<rect x="420" y="651" width="3" height="11"/>
<rect x="459" y="651" width="3" height="5"/>
<rect x="498" y="651" width="3" height="11"/>
<rect x="536" y="651" width="3" height="5"/>
<rect x="575" y="651" width="3" height="11"/>
<rect x="613" y="651" width="3" height="5"/>
<rect x="652" y="651" width="3" height="11"/>
<rect x="690" y="651" width="3" height="5"/>
<rect x="729" y="651" width="3" height="11"/>
<rect x="767" y="651" width="3" height="5"/>
<rect x="806" y="651" width="3" height="11"/>
<rect x="844" y="651" width="3" height="5"/>
<rect x="883" y="651" width="3" height="11"/>
</g>
<g fill="none" stroke="#000" shape-rendering="crispEdges">
<path d="M660.1 409.5 H722.7" stroke-width="3.1"/>
<path d="M660.1 447.5 H722.7" stroke-width="3.1" stroke-dasharray="15.3 14.55"/>
<path d="M660.1 480.5 H722.7" stroke-width="3.1" stroke-dasharray="4.5 13.31"/>
<path d="M660.1 519.5 H722.0" stroke-width="3.1" stroke-dasharray="18 7.1 5 7.1"/>
<path d="M660.1 552.5 H722.7" stroke-width="3.1" stroke-dasharray="14.2 7.4 4.6 7.4 4.6 7.1"/>
<path d="M660.1 591.5 H722.7" stroke-width="3.0" stroke-dasharray="7.5 6.03"/>
<path d="M660.1 624.9 H718.0" stroke-width="3.0" stroke-dasharray="2.9 3.14"/>
</g>
</svg>
<div class="t yl" style="left:31.9px;top:632.0px">0</div>
<div class="t yl" style="left:31.9px;top:570.1px">10</div>
<div class="t yl" style="left:31.9px;top:508.2px">20</div>
<div class="t yl" style="left:31.9px;top:446.3px">30</div>
<div class="t yl" style="left:31.9px;top:384.4px">40</div>
<div class="t yl" style="left:31.9px;top:322.5px">50</div>
<div class="t yl" style="left:31.9px;top:260.6px">60</div>
<div class="t yl" style="left:31.9px;top:198.7px">70</div>
<div class="t yl" style="left:31.9px;top:136.8px">80</div>
<div class="t yl" style="left:31.9px;top:74.9px">90</div>
<div class="t yl" style="left:31.9px;top:13.0px">100</div>
<div class="t xl" style="left:73.2px;top:665.5px">300</div>
<div class="t xl" style="left:150.3px;top:665.5px">350</div>
<div class="t xl" style="left:227.4px;top:665.5px">400</div>
<div class="t xl" style="left:304.5px;top:665.5px">450</div>
<div class="t xl" style="left:381.6px;top:665.5px">500</div>
<div class="t xl" style="left:458.7px;top:665.5px">550</div>
<div class="t xl" style="left:535.8px;top:665.5px">600</div>
<div class="t xl" style="left:612.9px;top:665.5px">650</div>
<div class="t xl" style="left:690.0px;top:665.5px">700</div>
<div class="t xl" style="left:767.1px;top:665.5px">750</div>
<div class="t xl" style="left:844.2px;top:665.5px">800</div>
<div class="t lg" style="left:728.6px;top:396.6px"><i style="margin-left:1.4px">T</i>iO<sub style="top:7.3px">2</sub></div>
<div class="t lg" style="left:728.6px;top:434.6px">PMMA</div>
<div class="t lg" style="left:728.6px;top:467.8px">PMMA<i style="margin:0 2.2px 0 2.5px">-</i>TiO<sub style="top:8.2px">2</sub></div>
<div class="t lg" style="left:728.6px;top:506.1px">PHEMA</div>
<div class="t lg" style="left:728.6px;top:539.1px">PHEMA<i style="margin:0 3.0px 0 2.6px">-</i>TiO<sub style="top:9.0px">2</sub></div>
<div class="t lg" style="left:728.6px;top:577.9px">PGMA</div>
<div class="t lg" style="left:728.6px;top:611.6px"><span style="letter-spacing:-0.6px">PGMA</span><i style="margin:0 2.6px 0 3.9px">-</i><i style="margin-right:1.3px">T</i><i style="margin-right:-1.2px">i</i>O<sub style="top:8.2px">2</sub></div>
<div class="t" id="xt" style="left:395.2px;top:723.0px;font-size:27px;letter-spacing:0.68px">Wavelength (nm)</div>
<div class="t" id="yt" style="left:0;top:0;font-size:26px;letter-spacing:0.42px;transform-origin:0 0;transform:translate(16.1px,447.4px) rotate(-90deg)">Transmittance (%)</div>
</body></html>
